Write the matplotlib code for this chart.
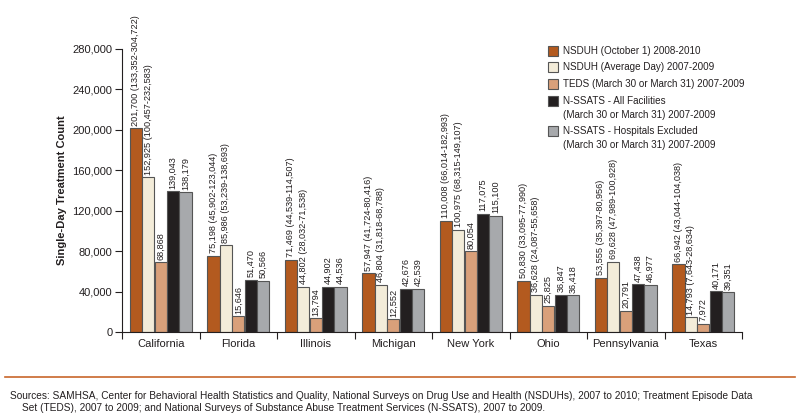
import matplotlib
matplotlib.use("Agg")
import matplotlib.pyplot as plt
from matplotlib.patches import Rectangle
from matplotlib.lines import Line2D
from matplotlib import font_manager
import numpy as np

states = ["California", "Florida", "Illinois", "Michigan", "New York", "Ohio", "Pennsylvania", "Texas"]
series_names = [
    ["NSDUH (October 1) 2008-2010"],
    ["NSDUH (Average Day) 2007-2009"],
    ["TEDS (March 30 or March 31) 2007-2009"],
    ["N-SSATS - All Facilities", "(March 30 or March 31) 2007-2009"],
    ["N-SSATS - Hospitals Excluded", "(March 30 or March 31) 2007-2009"],
]
nsduh_oct = [201700, 75198, 71469, 57947, 110008, 50830, 53555, 66942]
nsduh_oct_ci = ["133,352-304,722", "45,902-123,044", "44,539-114,507", "41,724-80,416",
                "66,014-182,993", "33,095-77,990", "35,397-80,956", "43,044-104,038"]
nsduh_avg = [152925, 85986, 44802, 46804, 100975, 36628, 69628, 14793]
nsduh_avg_ci = ["100,457-232,583", "53,239-138,693", "28,032-71,538", "31,818-68,788",
                "68,315-149,107", "24,087-55,658", "47,989-100,928", "7,643-28,634"]
teds = [68868, 15646, 13794, 12552, 80054, 25825, 20791, 7972]
nssats_all = [139043, 51470, 44902, 42676, 117075, 36847, 47438, 40171]
nssats_hosp = [138179, 50566, 44536, 42539, 115100, 36418, 46977, 39351]
yticks = [0, 40000, 80000, 120000, 160000, 200000, 240000, 280000]

colors = ["#B35A1F", "#F3ECD9", "#D9A07A", "#231F20", "#A7A9AC"]

avail = {f.name for f in font_manager.fontManager.ttflist}
fam = []
for f in ["Liberation Sans Narrow", "DejaVu Sans Condensed", "Liberation Sans", "DejaVu Sans"]:
    if f in avail:
        fam.append(f)
plt.rcParams['font.family'] = fam
TXT = "#231F20"

fig = plt.figure(figsize=(8, 4.2), dpi=100)
ax = fig.add_axes([122/800, 1-332/420, 620/800, 283/420])

series = [nsduh_oct, nsduh_avg, teds, nssats_all, nssats_hosp]
x = np.arange(len(states))
bw = 0.158
offs = (np.arange(5) - 2) * 0.16
for i, vals in enumerate(series):
    ax.bar(x + offs[i], vals, width=bw, color=colors[i], edgecolor="#555555", linewidth=0.8, zorder=2)
    for j, v in enumerate(vals):
        lab = f"{v:,}"
        if i == 0:
            lab += f" ({nsduh_oct_ci[j]})"
        elif i == 1:
            lab += f" ({nsduh_avg_ci[j]})"
        ax.text(x[j] + offs[i], v + 2500, lab, rotation=90, ha="center", va="bottom",
                fontsize=6.6, color=TXT)

ax.set_xlim(-0.5, len(states) - 0.5)
ax.set_ylim(0, 280000)
ax.set_yticks(yticks)
ax.set_yticklabels([f"{t:,}" for t in yticks], fontsize=8, color=TXT)
ax.set_xticks(np.arange(len(states) + 1) - 0.5)
ax.set_xticklabels([])
ax.set_xticks(x, minor=True)
ax.set_xticklabels(states, minor=True, fontsize=8, color=TXT)
ax.tick_params(axis="x", which="minor", length=0, pad=5)
ax.tick_params(axis="x", which="major", length=5, width=0.8, color=TXT)
ax.tick_params(axis="y", length=5, width=0.8, color=TXT, pad=2)
for s in ["top", "right"]:
    ax.spines[s].set_visible(False)
for s in ["left", "bottom"]:
    ax.spines[s].set_color(TXT)
    ax.spines[s].set_linewidth(0.8)
ax.set_ylabel("Single-Day Treatment Count", fontsize=8, fontweight="bold", color=TXT, labelpad=4)

# legend (manual, square aligned to first line)
lx = 548
line_ys = [[51], [67], [84], [101, 115], [131, 145]]
for i, name in enumerate(series_names):
    y0 = line_ys[i][0]
    fig.patches.append(Rectangle((lx/800, 1-(y0+5)/420), 10/800, 10/420, transform=fig.transFigure,
                                 facecolor=colors[i], edgecolor="#555555", linewidth=0.8))
    for ln, yy in zip(name, line_ys[i]):
        fig.text(563/800, 1-yy/420, ln, fontsize=7.1, va="center", ha="left", color=TXT)

# footer
fig.lines.append(Line2D([5/800, 795/800], [1-377/420, 1-377/420], transform=fig.transFigure,
                        color="#C8662A", linewidth=1.2))
fig.text(10/800, 1-396/420,
         "Sources: SAMHSA, Center for Behavioral Health Statistics and Quality, National Surveys on Drug Use and Health (NSDUHs), 2007 to 2010; Treatment Episode Data",
         fontsize=7.3, va="center", ha="left", color=TXT)
fig.text(22/800, 1-408/420,
         "Set (TEDS), 2007 to 2009; and National Surveys of Substance Abuse Treatment Services (N-SSATS), 2007 to 2009.",
         fontsize=7.3, va="center", ha="left", color=TXT)

fig.savefig("out.png", dpi=100)
